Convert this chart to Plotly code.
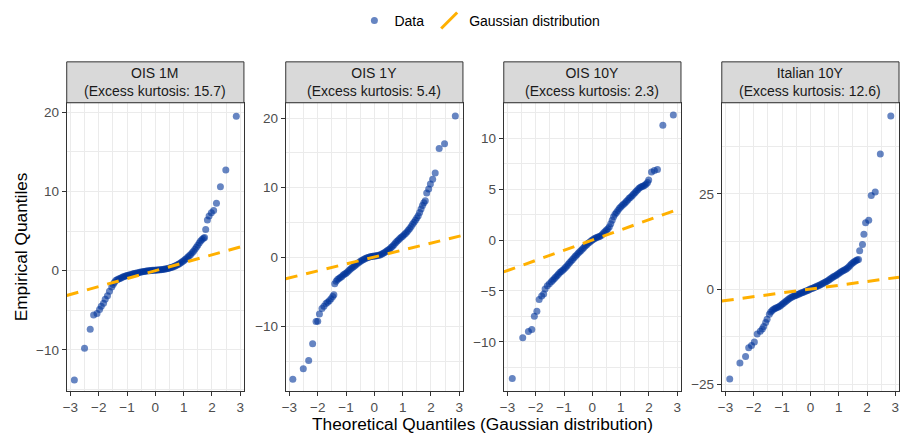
import plotly.graph_objects as go

W, H = 900, 435

# ---------------- data ----------------
panel_titles = ["OIS 1M", "OIS 1Y", "OIS 10Y", "Italian 10Y"]
excess_kurtosis = [15.7, 5.4, 2.3, 12.6]

# Each panel: theoretical (Gaussian) quantiles x, empirical quantiles y,
# split into lower tail / dense core / upper tail.

# --- OIS 1M ---
ois1m_low_x = [-2.86, -2.50, -2.30, -2.18, -2.06, -1.97, -1.91, -1.83, -1.77, -1.69, -1.62, -1.54, -1.49]
ois1m_low_y = [-13.8, -9.8, -7.4, -5.6, -5.4, -4.9, -4.5, -4.1, -3.6, -3.15, -2.6, -2.05, -1.75]
ois1m_core_x = [-1.45, -1.40, -1.35, -1.30, -1.25, -1.20, -1.15, -1.10, -1.05, -1.00,
                -0.95, -0.90, -0.85, -0.80, -0.75, -0.70, -0.65, -0.60, -0.55, -0.50,
                -0.45, -0.40, -0.35, -0.30, -0.25, -0.20, -0.15, -0.10, -0.05, 0.00,
                0.05, 0.10, 0.15, 0.20, 0.25, 0.30, 0.35, 0.40, 0.45, 0.50,
                0.55, 0.60, 0.65, 0.70, 0.75, 0.80, 0.85, 0.90, 0.95, 1.00,
                1.05, 1.10, 1.15, 1.20, 1.25, 1.30, 1.35, 1.40, 1.45, 1.50,
                1.55, 1.60, 1.65, 1.70]
ois1m_core_y = [-1.5, -1.25, -1.15, -1.05, -0.98, -0.88, -0.8, -0.74, -0.68, -0.62,
                -0.57, -0.52, -0.47, -0.42, -0.37, -0.33, -0.29, -0.25, -0.21, -0.17,
                -0.13, -0.1, -0.07, -0.04, -0.02, 0.0, 0.02, 0.04, 0.06, 0.07,
                0.09, 0.1, 0.12, 0.13, 0.15, 0.18, 0.21, 0.25, 0.29, 0.33,
                0.39, 0.45, 0.52, 0.6, 0.69, 0.78, 0.88, 1.0, 1.12, 1.25,
                1.4, 1.55, 1.72, 1.9, 2.05, 2.25, 2.45, 2.7, 2.95, 3.2,
                3.5, 3.75, 3.95, 4.1]
ois1m_high_x = [1.74, 1.78, 1.84, 1.90, 1.98, 2.06, 2.16, 2.30, 2.49, 2.86]
ois1m_high_y = [4.2, 5.2, 6.4, 6.9, 7.3, 7.6, 8.5, 10.6, 12.7, 19.5]

# --- OIS 1Y ---
ois1y_low_x = [-2.88, -2.51, -2.32, -2.18, -2.06, -2.0, -1.94, -1.85, -1.78, -1.71, -1.65, -1.59, -1.53, -1.47, -1.43]
ois1y_low_y = [-17.6, -16.1, -14.9, -12.5, -9.3, -9.25, -8.2, -7.4, -7.1, -6.7, -6.5, -6.3, -6.0, -5.7, -5.45]
ois1y_core_x = [-1.40, -1.35, -1.30, -1.25, -1.20, -1.15, -1.10, -1.05, -1.00, -0.95,
                -0.90, -0.85, -0.80, -0.75, -0.70, -0.65, -0.60, -0.55, -0.50, -0.45,
                -0.40, -0.35, -0.30, -0.25, -0.20, -0.15, -0.10, -0.05, 0.00, 0.05,
                0.10, 0.15, 0.20, 0.25, 0.30, 0.35, 0.40, 0.45, 0.50, 0.55,
                0.60, 0.65, 0.70, 0.75, 0.80, 0.85, 0.90, 0.95, 1.00, 1.05,
                1.10, 1.15, 1.20, 1.25, 1.30, 1.35, 1.40, 1.45, 1.50, 1.55,
                1.60, 1.65, 1.70, 1.75, 1.80]
ois1y_core_y = [-3.85, -3.5, -3.25, -3.1, -2.95, -2.8, -2.6, -2.45, -2.35, -2.15,
                -1.95, -1.75, -1.6, -1.45, -1.3, -1.1, -0.95, -0.8, -0.65, -0.5,
                -0.38, -0.28, -0.18, -0.1, -0.03, 0.02, 0.06, 0.1, 0.13, 0.16,
                0.2, 0.25, 0.3, 0.4, 0.5, 0.62, 0.75, 0.9, 1.05, 1.2,
                1.4, 1.6, 1.8, 2.05, 2.25, 2.45, 2.65, 2.85, 3.0, 3.2,
                3.4, 3.6, 3.85, 4.1, 4.4, 4.7, 5.0, 5.3, 5.6, 5.95,
                6.4, 6.9, 7.4, 7.8, 8.1]
ois1y_high_x = [1.85, 1.92, 1.98, 2.06, 2.15, 2.29, 2.48, 2.86]
ois1y_high_y = [9.2, 9.8, 10.5, 11.2, 12.1, 15.6, 16.3, 20.3]

# --- OIS 10Y ---
ois10y_low_x = [-2.83, -2.46, -2.26, -2.14, -2.05, -1.96, -1.88, -1.79, -1.72, -1.67, -1.59, -1.52]
ois10y_low_y = [-13.6, -9.6, -9.0, -8.8, -7.5, -7.0, -5.85, -5.5, -5.3, -4.8, -4.5, -4.3]
ois10y_core_x = [-1.45, -1.40, -1.35, -1.30, -1.25, -1.20, -1.15, -1.10, -1.05, -1.00,
                 -0.95, -0.90, -0.85, -0.80, -0.75, -0.70, -0.65, -0.60, -0.55, -0.50,
                 -0.45, -0.40, -0.35, -0.30, -0.25, -0.20, -0.15, -0.10, -0.05, 0.00,
                 0.05, 0.10, 0.15, 0.20, 0.25, 0.30, 0.35, 0.40, 0.45, 0.50,
                 0.55, 0.60, 0.65, 0.70, 0.75, 0.80, 0.85, 0.90, 0.95, 1.00,
                 1.05, 1.10, 1.15, 1.20, 1.25, 1.30, 1.35, 1.40, 1.45, 1.50,
                 1.55, 1.60, 1.65, 1.70, 1.75, 1.80, 1.85, 1.90, 1.95]
ois10y_core_y = [-4.1, -3.95, -3.8, -3.65, -3.5, -3.35, -3.2, -3.1, -2.98, -2.85,
                 -2.7, -2.55, -2.38, -2.2, -2.05, -1.9, -1.75, -1.6, -1.45, -1.3,
                 -1.15, -1.02, -0.88, -0.72, -0.58, -0.45, -0.32, -0.22, -0.1, 0.0,
                 0.1, 0.18, 0.25, 0.3, 0.35, 0.42, 0.55, 0.72, 0.85, 0.98,
                 1.12, 1.3, 1.6, 1.95, 2.3, 2.55, 2.7, 2.9, 3.1, 3.25,
                 3.4, 3.52, 3.65, 3.8, 3.95, 4.1, 4.22, 4.35, 4.5, 4.65,
                 4.8, 4.95, 5.1, 5.2, 5.27, 5.32, 5.4, 5.5, 5.65]
ois10y_high_x = [1.99, 2.09, 2.19, 2.30, 2.49, 2.86]
ois10y_high_y = [5.9, 6.7, 6.85, 6.95, 11.3, 12.3]

# --- Italian 10Y ---
it10y_low_x = [-2.85, -2.49, -2.29, -2.18, -2.08, -1.98, -1.88, -1.77, -1.70, -1.65, -1.58, -1.53]
it10y_low_y = [-23.6, -19.4, -17.7, -15.4, -14.8, -13.9, -11.8, -11.1, -10.5, -9.8, -8.8, -7.9]
it10y_core_x = [-1.45, -1.40, -1.35, -1.30, -1.25, -1.20, -1.15, -1.10, -1.05, -1.00,
                -0.95, -0.90, -0.85, -0.80, -0.75, -0.70, -0.65, -0.60, -0.55, -0.50,
                -0.45, -0.40, -0.35, -0.30, -0.25, -0.20, -0.15, -0.10, -0.05, 0.00,
                0.05, 0.10, 0.15, 0.20, 0.25, 0.30, 0.35, 0.40, 0.45, 0.50,
                0.55, 0.60, 0.65, 0.70, 0.75, 0.80, 0.85, 0.90, 0.95, 1.00,
                1.05, 1.10, 1.15, 1.20, 1.25, 1.30, 1.35, 1.40, 1.45, 1.50,
                1.55, 1.60, 1.65, 1.70]
it10y_core_y = [-6.6, -6.0, -5.6, -5.3, -5.1, -4.9, -4.75, -4.55, -4.3, -4.0,
                -3.7, -3.4, -3.1, -2.8, -2.55, -2.3, -2.1, -1.9, -1.75, -1.6,
                -1.45, -1.3, -1.1, -0.95, -0.8, -0.65, -0.5, -0.35, -0.15, 0.0,
                0.15, 0.3, 0.45, 0.6, 0.78, 0.95, 1.15, 1.35, 1.55, 1.75,
                1.95, 2.15, 2.4, 2.65, 2.9, 3.15, 3.4, 3.6, 3.85, 4.1,
                4.35, 4.6, 4.8, 5.0, 5.2, 5.45, 5.8, 6.2, 6.6, 6.9,
                7.2, 7.45, 7.65, 7.8]
it10y_high_x = [1.74, 1.84, 1.89, 1.95, 2.06, 2.15, 2.29, 2.47, 2.84]
it10y_high_y = [10.1, 11.7, 14.4, 17.4, 18.1, 24.6, 25.5, 35.5, 45.5]

theoretical = [ois1m_low_x + ois1m_core_x + ois1m_high_x,
               ois1y_low_x + ois1y_core_x + ois1y_high_x,
               ois10y_low_x + ois10y_core_x + ois10y_high_x,
               it10y_low_x + it10y_core_x + it10y_high_x]
empirical = [ois1m_low_y + ois1m_core_y + ois1m_high_y,
             ois1y_low_y + ois1y_core_y + ois1y_high_y,
             ois10y_low_y + ois10y_core_y + ois10y_high_y,
             it10y_low_y + it10y_core_y + it10y_high_y]

# Gaussian reference line y = slope * x + intercept
gauss_slope = 1.0
gauss_intercept = 0.0

# axes
x_range = [-3.13, 3.13]
x_dtick = 1
y_ranges = [[-15.2, 21.2], [-19.3, 22.2], [-14.85, 13.5], [-26.8, 48.95]]
y_dticks = [10, 10, 5, 25]

# ---------------- layout geometry (pixels) ----------------
panel_px = [(63, 241), (283, 461), (502, 680), (721, 899)]
strip_top_px = 62
plot_top_px = 103
plot_bottom_px = 392

FONT = "Liberation Sans, Arial, Helvetica, sans-serif"
POINT_COLOR = "#003399"
LINE_COLOR = "#FFB000"
GRID = "#EBEBEB"
BORDER = "#333333"
TICK_SIZE = 13.5


def px2x(p):
    return p / W


def px2y(p):
    return 1 - p / H


fig = go.Figure()

for i in range(4):
    sfx = "" if i == 0 else str(i + 1)
    n = min(len(theoretical[i]), len(empirical[i]))
    fig.add_trace(go.Scatter(
        x=theoretical[i][:n], y=empirical[i][:n], mode="markers",
        name="Data", showlegend=(i == 0), legendgroup="data",
        marker=dict(color=POINT_COLOR, size=7, opacity=0.6, line=dict(width=0)),
        xaxis="x" + sfx, yaxis="y" + sfx, hoverinfo="x+y",
    ))

for i in range(4):
    sfx = "" if i == 0 else str(i + 1)
    lx = list(x_range)
    ly = [gauss_slope * v + gauss_intercept for v in lx]
    fig.add_trace(go.Scatter(
        x=lx, y=ly, mode="lines", showlegend=False, legendgroup="gauss",
        name="Gaussian distribution",
        line=dict(color=LINE_COLOR, width=3, dash="12px,9px"),
        xaxis="x" + sfx, yaxis="y" + sfx, hoverinfo="skip",
    ))

# legend key for the reference line (diagonal, like ggplot's abline key)
fig.add_trace(go.Scatter(
    x=[None], y=[None], mode="markers", name="Gaussian distribution",
    legendgroup="gauss",
    marker=dict(symbol="line-ne", size=16, color=LINE_COLOR,
                line=dict(color=LINE_COLOR, width=3)),
    xaxis="x", yaxis="y",
))

layout = dict(
    width=W, height=H,
    margin=dict(l=0, r=0, t=0, b=0),
    paper_bgcolor="white", plot_bgcolor="white",
    font=dict(family=FONT, size=14, color="black"),
    showlegend=True,
    legend=dict(orientation="h", x=478 / W, xanchor="center",
                y=px2y(21), yanchor="middle",
                font=dict(size=14, color="black"),
                bgcolor="rgba(0,0,0,0)", itemwidth=30),
    shapes=[], annotations=[],
)

for i in range(4):
    sfx = "" if i == 0 else str(i + 1)
    x0, x1 = panel_px[i]
    layout["xaxis" + sfx] = dict(
        domain=[px2x(x0), px2x(x1)], anchor="y" + sfx,
        range=x_range, tickmode="linear", tick0=0, dtick=x_dtick,
        showgrid=True, gridcolor=GRID, gridwidth=1.1, zeroline=False,
        minor=dict(dtick=0.5, tick0=0, showgrid=True, gridcolor=GRID, gridwidth=0.6),
        showline=True, mirror=True, linecolor=BORDER, linewidth=1,
        ticks="outside", ticklen=4, tickwidth=1, tickcolor=BORDER,
        tickfont=dict(size=TICK_SIZE, color="#4D4D4D", family=FONT),
    )
    layout["yaxis" + sfx] = dict(
        domain=[px2y(plot_bottom_px), px2y(plot_top_px)], anchor="x" + sfx,
        range=y_ranges[i], tickmode="linear", tick0=0, dtick=y_dticks[i],
        showgrid=True, gridcolor=GRID, gridwidth=1.1, zeroline=False,
        minor=dict(dtick=y_dticks[i] / 2, tick0=0, showgrid=True,
                   gridcolor=GRID, gridwidth=0.6),
        showline=True, mirror=True, linecolor=BORDER, linewidth=1,
        ticks="outside", ticklen=4, tickwidth=1, tickcolor=BORDER,
        tickfont=dict(size=TICK_SIZE, color="#4D4D4D", family=FONT),
    )
    # facet strip
    layout["shapes"].append(dict(
        type="rect", xref="paper", yref="paper",
        x0=px2x(x0), x1=px2x(x1), y0=px2y(plot_top_px), y1=px2y(strip_top_px),
        fillcolor="#D9D9D9", line=dict(color=BORDER, width=1), layer="above",
    ))
    layout["annotations"].append(dict(
        xref="paper", yref="paper",
        x=px2x((x0 + x1) / 2), y=px2y((strip_top_px + plot_top_px) / 2),
        xanchor="center", yanchor="middle", showarrow=False,
        text=f"{panel_titles[i]}<br>(Excess kurtosis: {excess_kurtosis[i]})",
        font=dict(size=14, color="#1A1A1A", family=FONT),
    ))

# axis titles
layout["annotations"].append(dict(
    xref="paper", yref="paper", x=px2x(481), y=px2y(425),
    xanchor="center", yanchor="middle", showarrow=False,
    text="Theoretical Quantiles (Gaussian distribution)",
    font=dict(size=17.3, color="black", family=FONT),
))
layout["annotations"].append(dict(
    xref="paper", yref="paper", x=px2x(18), y=px2y(247),
    xanchor="center", yanchor="middle", showarrow=False, textangle=-90,
    text="Empirical Quantiles",
    font=dict(size=17.3, color="black", family=FONT),
))

fig.update_layout(**layout)
fig.write_html("out.html")
